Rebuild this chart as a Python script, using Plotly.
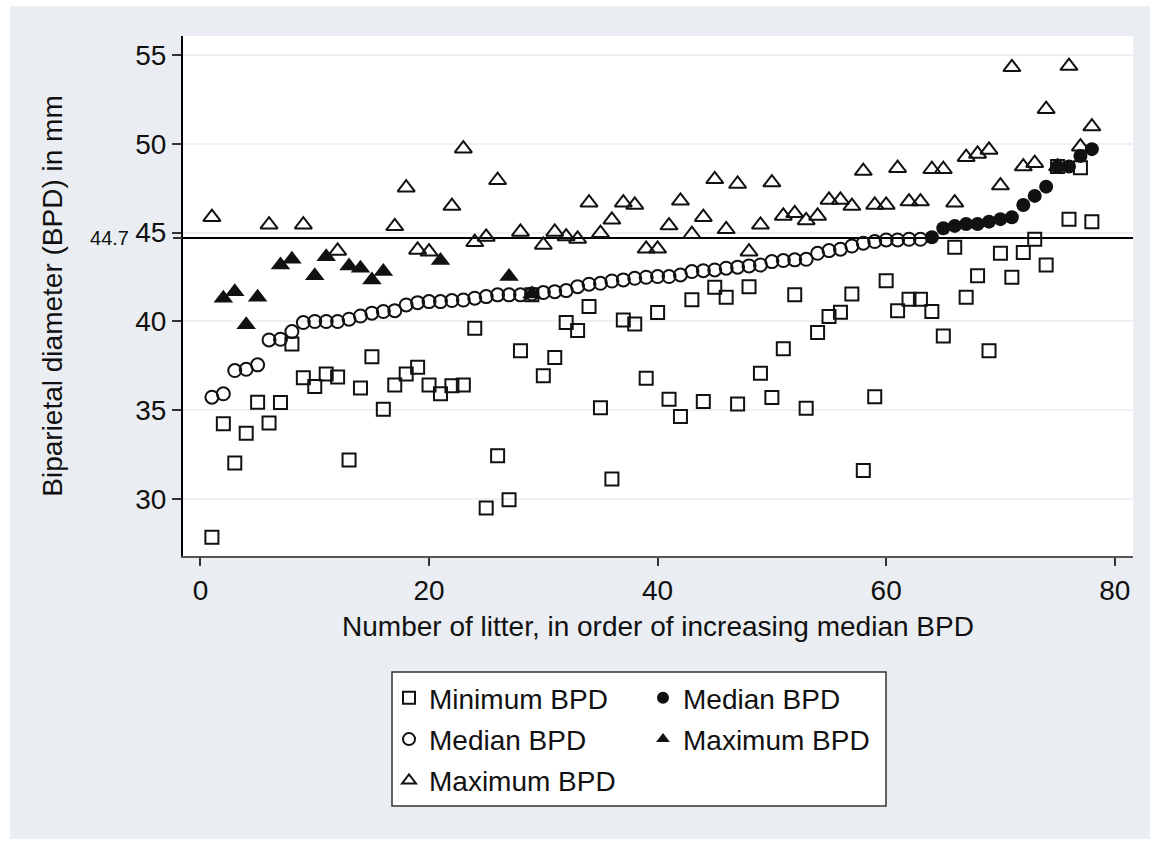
import plotly.graph_objects as go

# ---------------- data ----------------
litter = list(range(1, 79))

min_bpd = [27.86, 34.24, 32.03, 33.71, 35.46, 34.28, 35.44, 38.74, 36.84, 36.34,
           37.05, 36.87, 32.21, 36.25, 38.02, 35.06, 36.43, 37.05, 37.43, 36.43,
           35.93, 36.38, 36.43, 39.62, 29.50, 32.44, 29.96, 38.36, 41.50, 36.94,
           37.97, 39.94, 39.49, 40.84, 35.15, 31.13, 40.09, 39.86, 36.81, 40.50,
           35.63, 34.65, 41.22, 35.49, 41.93, 41.37, 35.35, 41.96, 37.09, 35.72,
           38.46, 41.50, 35.12, 39.38, 40.28, 40.52, 41.55, 31.61, 35.77, 42.30,
           40.61, 41.25, 41.25, 40.56, 39.19, 44.18, 41.37, 42.57, 38.36, 43.84,
           42.49, 43.88, 44.63, 43.18, 48.72, 45.76, 48.66, 45.62]

median_bpd = [35.74, 35.93, 37.24, 37.31, 37.56, 38.96, 39.00, 39.43, 39.94, 40.00,
              40.00, 40.00, 40.13, 40.31, 40.47, 40.56, 40.61, 40.93, 41.06, 41.12,
              41.12, 41.18, 41.21, 41.31, 41.40, 41.50, 41.50, 41.50, 41.55, 41.63,
              41.68, 41.74, 41.96, 42.10, 42.15, 42.28, 42.34, 42.43, 42.49, 42.53,
              42.53, 42.62, 42.81, 42.86, 42.90, 43.00, 43.06, 43.13, 43.18, 43.37,
              43.43, 43.47, 43.50, 43.84, 43.99, 44.07, 44.25, 44.41, 44.50, 44.59,
              44.59, 44.63, 44.63, 44.74, 45.25, 45.38, 45.49, 45.49, 45.62, 45.76,
              45.87, 46.56, 47.07, 47.59, 48.72, 48.72, 49.32, 49.70]

max_bpd = [45.87, 41.31, 41.68, 39.81, 41.37, 45.45, 43.18, 43.50, 45.45, 42.57,
           43.65, 43.97, 43.13, 43.00, 42.34, 42.81, 45.36, 47.53, 44.03, 43.93,
           43.43, 46.50, 49.73, 44.46, 44.76, 47.95, 42.53, 45.04, 41.55, 44.31,
           45.04, 44.78, 44.65, 46.69, 44.97, 45.72, 46.69, 46.56, 44.09, 44.09,
           45.40, 46.79, 44.91, 45.87, 48.00, 45.19, 47.74, 43.93, 45.44, 47.82,
           45.94, 46.09, 45.69, 45.94, 46.84, 46.84, 46.50, 48.47, 46.56, 46.56,
           48.63, 46.75, 46.75, 48.57, 48.57, 46.69, 49.25, 49.43, 49.66, 47.65,
           54.31, 48.72, 48.91, 51.95, 48.72, 54.38, 49.84, 50.97]

# litters whose maximum is drawn as a filled triangle
max_filled_litters = [2, 3, 4, 5, 7, 8, 10, 11, 13, 14, 15, 16, 21, 27, 29]

reference_bpd = 44.7
x_ticks = [0, 20, 40, 60, 80]
y_ticks = [30, 35, 40, 45, 50, 55]
x_range = [-1.53, 81.6]
y_range = [26.8, 56.07]

# ---------------- split series ----------------
med_open_x = [l for l, m in zip(litter, median_bpd) if m <= reference_bpd]
med_open_y = [m for m in median_bpd if m <= reference_bpd]
med_fill_x = [l for l, m in zip(litter, median_bpd) if m > reference_bpd]
med_fill_y = [m for m in median_bpd if m > reference_bpd]
max_open_x = [l for l in litter if l not in max_filled_litters]
max_open_y = [v for l, v in zip(litter, max_bpd) if l not in max_filled_litters]
max_fill_x = [l for l in litter if l in max_filled_litters]
max_fill_y = [v for l, v in zip(litter, max_bpd) if l in max_filled_litters]

FONT = "Liberation Sans, Arial, Helvetica, sans-serif"
INK = "#111111"
FS = 28

fig = go.Figure()
fig.add_trace(go.Scatter(x=litter, y=min_bpd, mode="markers", name="Minimum BPD",
                         marker=dict(symbol="square-open", size=13, color=INK, line=dict(width=2, color=INK)),
                         legend="legend", legendgroup="a"))
fig.add_trace(go.Scatter(x=med_open_x, y=med_open_y, mode="markers", name="Median BPD",
                         marker=dict(symbol="circle-open", size=13, color=INK, line=dict(width=2, color=INK)),
                         legend="legend", legendgroup="b"))
fig.add_trace(go.Scatter(x=max_open_x, y=max_open_y, mode="markers", name="Maximum BPD",
                         marker=dict(symbol="triangle-up-open", size=15, color=INK, line=dict(width=2, color=INK)),
                         legend="legend", legendgroup="c"))
fig.add_trace(go.Scatter(x=med_fill_x, y=med_fill_y, mode="markers", name="Median BPD",
                         marker=dict(symbol="circle", size=14, color=INK, line=dict(width=0)),
                         legend="legend2", legendgroup="d"))
fig.add_trace(go.Scatter(x=max_fill_x, y=max_fill_y, mode="markers", name="Maximum BPD",
                         marker=dict(symbol="triangle-up", size=17, color=INK, line=dict(width=0)),
                         legend="legend2", legendgroup="e"))
# empty trace to carry the secondary axis holding the "44.7" label
fig.add_trace(go.Scatter(x=[None], y=[None], yaxis="y2", showlegend=False, hoverinfo="skip"))

# pixel helpers for paper coordinates
L, R, T, B = 183, 25, 36, 285
W, H = 1158, 841
PW, PH = W - L - R, H - T - B
def px(xp):
    return (xp - L) / PW
def py(yp):
    return (H - B - yp) / PH

shapes = [
    # white outer border
    dict(type="rect", xref="paper", yref="paper", x0=px(-5), x1=px(10), y0=py(850), y1=py(-5),
         fillcolor="white", line=dict(width=0), layer="below"),
    dict(type="rect", xref="paper", yref="paper", x0=px(1150), x1=px(1165), y0=py(850), y1=py(-5),
         fillcolor="white", line=dict(width=0), layer="below"),
    dict(type="rect", xref="paper", yref="paper", x0=px(-5), x1=px(1165), y0=py(6), y1=py(-5),
         fillcolor="white", line=dict(width=0), layer="below"),
    dict(type="rect", xref="paper", yref="paper", x0=px(-5), x1=px(1165), y0=py(850), y1=py(839),
         fillcolor="white", line=dict(width=0), layer="below"),
    # legend box
    dict(type="rect", xref="paper", yref="paper", x0=px(392), x1=px(886), y0=py(806), y1=py(672),
         fillcolor="white", line=dict(width=1.5, color="#333333"), layer="below"),
    # reference line
    dict(type="line", xref="paper", yref="y", x0=0, x1=1, y0=reference_bpd, y1=reference_bpd,
         line=dict(color="black", width=2), layer="between"),
]

fig.update_layout(
    width=W, height=H,
    margin=dict(l=L, r=R, t=T, b=B, pad=0),
    paper_bgcolor="#eaeef2",
    plot_bgcolor="white",
    font=dict(family=FONT, size=FS, color=INK),
    shapes=shapes,
    xaxis=dict(range=x_range, tickvals=x_ticks, ticks="outside", ticklen=8, tickwidth=1.5,
               tickcolor="#333333", showline=True, linecolor="#555555", linewidth=2,
               showgrid=False, zeroline=False, tickfont=dict(size=FS),
               title=dict(text="Number of litter, in order of increasing median BPD",
                          font=dict(size=FS), standoff=12)),
    yaxis=dict(range=y_range, tickvals=y_ticks, ticks="outside", ticklen=9, tickwidth=1.5,
               tickcolor="#333333", showline=True, linecolor="black", linewidth=2,
               showgrid=True, gridcolor="#eef1f4", gridwidth=1.5, zeroline=False,
               tickfont=dict(size=FS),
               title=dict(text="Biparietal diameter (BPD) in mm", font=dict(size=FS), standoff=64)),
    yaxis2=dict(range=y_range, overlaying="y", side="left", tickvals=[reference_bpd],
                ticktext=[str(reference_bpd)], ticks="outside", ticklen=9, tickwidth=1.5,
                tickcolor="#333333", showline=False, showgrid=False, zeroline=False,
                tickfont=dict(size=20), ticklabelstandoff=40),
    legend=dict(x=px(389), xanchor="left", y=py(673), yanchor="top", bgcolor="rgba(0,0,0,0)",
                font=dict(size=FS), itemsizing="constant", tracegroupgap=2, orientation="v"),
    legend2=dict(x=px(643), xanchor="left", y=py(673), yanchor="top", bgcolor="rgba(0,0,0,0)",
                 font=dict(size=FS), itemsizing="constant", tracegroupgap=2, orientation="v"),
    showlegend=True,
)

fig.write_html("out.html")
